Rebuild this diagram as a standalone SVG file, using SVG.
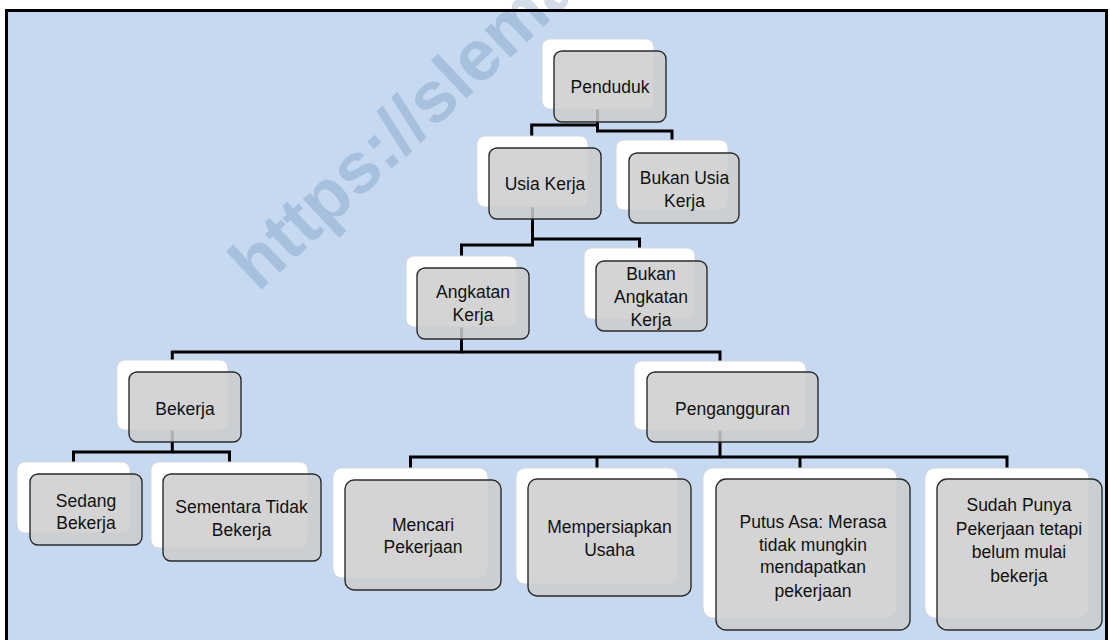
<svg xmlns="http://www.w3.org/2000/svg" width="1110" height="640" viewBox="0 0 1110 640">
<defs>
<style>
.bg{fill:#C6D9F1}
.frame{fill:none;stroke:#000;stroke-width:3}
.wm{font-family:"Liberation Sans",Arial,sans-serif;font-weight:bold;font-size:72px;fill:#46709f;fill-opacity:0.24}
.conn path{fill:none;stroke:#000;stroke-width:3;stroke-linejoin:miter}
.back{fill:#fff;stroke:#d4d8de;stroke-width:1}
.front{fill:#cccccc;fill-opacity:0.85;stroke:#2b2b2b;stroke-width:1.4}
.lbl{font-family:"Liberation Sans",Arial,sans-serif;font-size:17.5px;fill:#111;text-anchor:middle}
</style>
</defs>
<rect x="0" y="0" width="1110" height="640" fill="#fff"/>
<rect class="bg" x="6.5" y="10.5" width="1100" height="640"/>
<text class="wm" x="258" y="293" transform="rotate(-43 258 293)">https://slema</text>
<rect class="frame" x="6.5" y="10.5" width="1100" height="640"/>
<g id="connectors" class="conn">
<path d="M597.5 109 V131 H672 V141"/>
<path d="M597.5 125 H531.7 V137"/>
<path d="M532.5 207 V245 H461.5 V257"/>
<path d="M532.5 239 H639.5 V249"/>
<path d="M461.5 327 V352 H172.3 V361"/>
<path d="M461.5 352 H720 V362"/>
<path d="M172.3 430 V452 H73.5 V463"/>
<path d="M172.3 452 H229.5 V463"/>
<path d="M720 430 V457 H410.5 V469"/>
<path d="M597 457 V469"/>
<path d="M720 457 H1007 V469"/>
<path d="M800 457 V469"/>
</g>
<g id="penduduk">
<rect class="back" x="542" y="39" width="112" height="70" rx="8"/>
<rect class="front" x="554" y="51" width="112" height="71" rx="8"/>
<text class="lbl" x="610" y="93">Penduduk</text>
</g>
<g id="usia-kerja">
<rect class="back" x="477" y="136" width="111" height="71" rx="8"/>
<rect class="front" x="489" y="148" width="112" height="71" rx="8"/>
<text class="lbl" x="545" y="190">Usia Kerja</text>
</g>
<g id="bukan-usia-kerja">
<rect class="back" x="616" y="140" width="112" height="70" rx="8"/>
<rect class="front" x="629" y="153" width="110" height="70" rx="8"/>
<text class="lbl" x="684.5" y="184">Bukan Usia</text>
<text class="lbl" x="684.5" y="206.7">Kerja</text>
</g>
<g id="angkatan-kerja">
<rect class="back" x="406" y="256" width="111" height="71" rx="8"/>
<rect class="front" x="417" y="268" width="112" height="71" rx="8"/>
<text class="lbl" x="473" y="298.3">Angkatan</text>
<text class="lbl" x="473" y="321">Kerja</text>
</g>
<g id="bukan-angkatan-kerja">
<rect class="back" x="584" y="248" width="111" height="71" rx="8"/>
<rect class="front" x="596" y="261" width="111" height="70" rx="8"/>
<text class="lbl" x="651" y="280">Bukan</text>
<text class="lbl" x="651" y="302.7">Angkatan</text>
<text class="lbl" x="651" y="325.5">Kerja</text>
</g>
<g id="bekerja">
<rect class="back" x="117" y="360" width="111" height="70" rx="8"/>
<rect class="front" x="129" y="372" width="112" height="70" rx="8"/>
<text class="lbl" x="185" y="415">Bekerja</text>
</g>
<g id="pengangguran">
<rect class="back" x="634" y="361" width="172" height="69" rx="8"/>
<rect class="front" x="647" y="372" width="171" height="70" rx="8"/>
<text class="lbl" x="732.5" y="415">Pengangguran</text>
</g>
<g id="sedang-bekerja">
<rect class="back" x="17" y="462" width="113" height="71" rx="8"/>
<rect class="front" x="30" y="474" width="112" height="71" rx="8"/>
<text class="lbl" x="86" y="506.7">Sedang</text>
<text class="lbl" x="86" y="528.7">Bekerja</text>
</g>
<g id="sementara-tidak-bekerja">
<rect class="back" x="151" y="462" width="157" height="86" rx="8"/>
<rect class="front" x="163" y="474" width="158" height="87" rx="8"/>
<text class="lbl" x="241.5" y="512.7">Sementara Tidak</text>
<text class="lbl" x="241.5" y="535.5">Bekerja</text>
</g>
<g id="mencari-pekerjaan">
<rect class="back" x="333" y="468" width="155" height="110" rx="9"/>
<rect class="front" x="345" y="480" width="156" height="110" rx="9"/>
<text class="lbl" x="423" y="530.7">Mencari</text>
<text class="lbl" x="423" y="553.3">Pekerjaan</text>
</g>
<g id="mempersiapkan-usaha">
<rect class="back" x="516" y="468" width="162" height="116" rx="9"/>
<rect class="front" x="528" y="479" width="163" height="117" rx="9"/>
<text class="lbl" x="609.5" y="532.7">Mempersiapkan</text>
<text class="lbl" x="609.5" y="556">Usaha</text>
</g>
<g id="putus-asa">
<rect class="back" x="703" y="468" width="194" height="150" rx="10"/>
<rect class="front" x="716" y="479" width="194" height="151" rx="10"/>
<text class="lbl" x="813" y="528.3">Putus Asa: Merasa</text>
<text class="lbl" x="813" y="550.7">tidak mungkin</text>
<text class="lbl" x="813" y="573.3">mendapatkan</text>
<text class="lbl" x="813" y="596.7">pekerjaan</text>
</g>
<g id="sudah-punya">
<rect class="back" x="925" y="468" width="164" height="150" rx="10"/>
<rect class="front" x="937" y="479" width="165" height="151" rx="10"/>
<text class="lbl" x="1019" y="510.5">Sudah Punya</text>
<text class="lbl" x="1019" y="535">Pekerjaan tetapi</text>
<text class="lbl" x="1019" y="558.3">belum mulai</text>
<text class="lbl" x="1019" y="581.7">bekerja</text>
</g>
</svg>
